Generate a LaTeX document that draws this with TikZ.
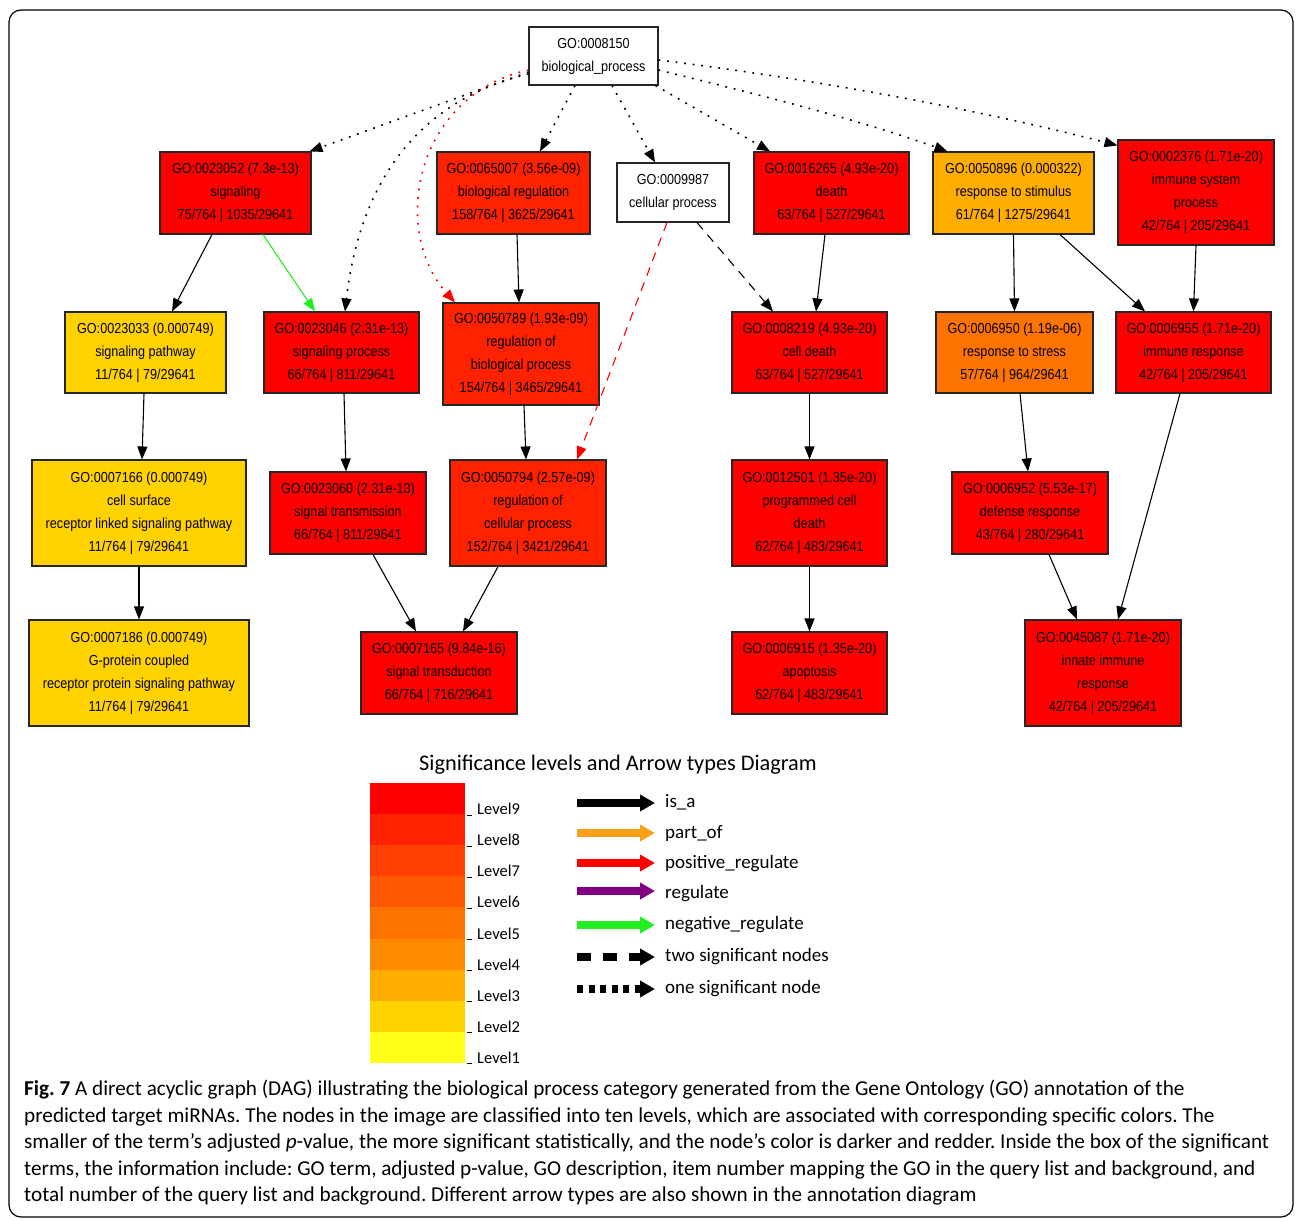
\documentclass[tikz,border=0pt]{standalone}
\usepackage{fontspec}
\setmainfont{Liberation Sans}
\newfontfamily\gofont[FakeStretch=0.87]{Liberation Sans}
\newfontfamily\legfont{Carlito}
\usetikzlibrary{arrows.meta}
\frenchspacing

\definecolor{lev9}{HTML}{FF0000}
\definecolor{lev8}{HTML}{FF2200}
\definecolor{lev7}{HTML}{FF4000}
\definecolor{lev6}{HTML}{FF5800}
\definecolor{lev5}{HTML}{FF7400}
\definecolor{lev4}{HTML}{FF8C00}
\definecolor{lev3}{HTML}{FFAE00}
\definecolor{lev2}{HTML}{FFD200}
\definecolor{lev1}{HTML}{FFFF1A}
\definecolor{partof}{HTML}{F9A11B}
\definecolor{regul}{HTML}{800080}
\definecolor{negreg}{HTML}{22EE22}

\tikzset{
  term/.style = {rectangle,draw=black!85,line width=1.1pt,inner sep=0pt,align=center,
                 font=\gofont\fontsize{14.5}{23}\selectfont},
  isa/.style = {-{Triangle[length=13pt,width=10pt]},line width=1.1pt},
  onesig/.style = {isa,line width=1.6pt,dash pattern=on 1.8pt off 6.8pt},
  twosig/.style = {isa,dash pattern=on 9pt off 7pt},
  legarrow/.style = {-{Triangle[length=15pt,width=16pt]},line width=7.5pt},
  leglab/.style = {anchor=west,inner sep=0pt,font=\legfont\fontsize{19}{22}\selectfont},
  levlab/.style = {anchor=west,inner sep=0pt,font=\legfont\fontsize{16.5}{18}\selectfont}
}

\begin{document}
\begin{tikzpicture}[x=1pt,y=-1pt]
\useasboundingbox (0,0) rectangle (1296,1220);
\draw[line width=1.2pt,rounded corners=12pt] (9,10) rectangle (1293,1217);

% GO terms
\node[term,fill=white,minimum width=129pt,minimum height=58pt] (bp) at (593.5,56) {GO:0008150\\biological\_process};
\node[term,fill=lev9,minimum width=151pt,minimum height=82pt] (sig) at (235.5,193) {GO:0023052 (7.3e-13)\\signaling\\75/764 | 1035/29641};
\node[term,fill=lev8,minimum width=153pt,minimum height=82pt] (bioreg) at (513.5,193) {GO:0065007 (3.56e-09)\\biological regulation\\158/764 | 3625/29641};
\node[term,fill=white,minimum width=112pt,minimum height=59pt] (cellp) at (673,192.5) {GO:0009987\\cellular process};
\node[term,fill=lev9,minimum width=155pt,minimum height=82pt] (death) at (831.5,193) {GO:0016265 (4.93e-20)\\death\\63/764 | 527/29641};
\node[term,fill=lev3,minimum width=161pt,minimum height=82pt] (stim) at (1013.5,193) {GO:0050896 (0.000322)\\response to stimulus\\61/764 | 1275/29641};
\node[term,fill=lev9,minimum width=156pt,minimum height=105pt] (immsys) at (1196,192.5) {GO:0002376 (1.71e-20)\\immune system\\process\\42/764 | 205/29641};

\node[term,fill=lev2,minimum width=161pt,minimum height=81pt] (sigpw) at (145.5,352.5) {GO:0023033 (0.000749)\\signaling pathway\\11/764 | 79/29641};
\node[term,fill=lev9,minimum width=155pt,minimum height=81pt] (sigproc) at (341.5,352.5) {GO:0023046 (2.31e-13)\\signaling process\\66/764 | 811/29641};
\node[term,fill=lev8,minimum width=156pt,minimum height=102pt] (regbp) at (521,354) {GO:0050789 (1.93e-09)\\regulation of\\biological process\\154/764 | 3465/29641};
\node[term,fill=lev9,minimum width=155pt,minimum height=81pt] (celldeath) at (809.5,352.5) {GO:0008219 (4.93e-20)\\cell death\\63/764 | 527/29641};
\node[term,fill=lev5,minimum width=157pt,minimum height=81pt] (stress) at (1014.5,352.5) {GO:0006950 (1.19e-06)\\response to stress\\57/764 | 964/29641};
\node[term,fill=lev9,minimum width=155pt,minimum height=81pt] (immresp) at (1193.5,352.5) {GO:0006955 (1.71e-20)\\immune response\\42/764 | 205/29641};

\node[term,fill=lev2,minimum width=214pt,minimum height=106pt] (cellsurf) at (139,513) {GO:0007166 (0.000749)\\cell surface\\receptor linked signaling pathway\\11/764 | 79/29641};
\node[term,fill=lev9,minimum width=156pt,minimum height=82pt] (sigtrans) at (348,513) {GO:0023060 (2.31e-13)\\signal transmission\\66/764 | 811/29641};
\node[term,fill=lev8,minimum width=156pt,minimum height=106pt] (regcp) at (528,513) {GO:0050794 (2.57e-09)\\regulation of\\cellular process\\152/764 | 3421/29641};
\node[term,fill=lev9,minimum width=155pt,minimum height=106pt] (pcd) at (809.5,513) {GO:0012501 (1.35e-20)\\programmed cell\\death\\62/764 | 483/29641};
\node[term,fill=lev9,minimum width=156pt,minimum height=82pt] (defense) at (1030,513) {GO:0006952 (5.53e-17)\\defense response\\43/764 | 280/29641};

\node[term,fill=lev2,minimum width=220pt,minimum height=106pt] (gprot) at (139,673) {GO:0007186 (0.000749)\\G-protein coupled\\receptor protein signaling pathway\\11/764 | 79/29641};
\node[term,fill=lev9,minimum width=156pt,minimum height=82pt] (sigtd) at (439,673) {GO:0007165 (9.84e-16)\\signal transduction\\66/764 | 716/29641};
\node[term,fill=lev9,minimum width=155pt,minimum height=82pt] (apop) at (809.5,673) {GO:0006915 (1.35e-20)\\apoptosis\\62/764 | 483/29641};
\node[term,fill=lev9,minimum width=156pt,minimum height=106pt] (innate) at (1103,673) {GO:0045087 (1.71e-20)\\innate immune\\response\\42/764 | 205/29641};

% edges from the root
\draw[onesig] ([yshift=-16pt]bp.west) -- ([xshift=74pt]sig.north);
\draw[onesig] ([yshift=-18pt]bp.west) .. controls (420,100) and (360,180) .. ([xshift=3.5pt]sigproc.north);
\draw[onesig,red] ([yshift=-14pt]bp.west) .. controls (415,95) and (390,230) .. ([xshift=-66pt]regbp.north);
\draw[onesig] ([xshift=-18.5pt]bp.south) -- ([xshift=26.5pt]bioreg.north);
\draw[onesig] ([xshift=18.5pt]bp.south) -- ([xshift=-18pt]cellp.north);
\draw[onesig] ([xshift=-3pt]bp.south east) -- ([xshift=-61.5pt]death.north);
\draw[onesig] ([yshift=-14pt]bp.east) .. controls (760,95) and (860,120) .. ([xshift=-66pt]stim.north);
\draw[onesig] ([yshift=-4pt]bp.east) .. controls (820,80) and (980,110) .. ([yshift=-6pt]immsys.north west);

% is_a and regulation edges
\draw[isa] ([xshift=-23.5pt]sig.south) -- ([xshift=26.5pt]sigpw.north);
\draw[isa,negreg] ([xshift=27.5pt]sig.south) -- ([xshift=-26.5pt]sigproc.north);
\draw[isa] ([xshift=3.5pt]bioreg.south) -- ([xshift=-2pt]regbp.north);
\draw[twosig] ([xshift=24pt]cellp.south) -- ([xshift=-36.5pt]celldeath.north);
\draw[twosig,red] ([xshift=-6pt]cellp.south) -- ([xshift=49pt]regcp.north);
\draw[isa] ([xshift=-6.5pt]death.south) -- ([xshift=6.5pt]celldeath.north);
\draw[isa] (stim.south) -- (stress.north);
\draw[isa] ([xshift=46.5pt]stim.south) -- ([xshift=-48.5pt]immresp.north);
\draw[isa] (immsys.south) -- (immresp.north);
\draw[isa] ([xshift=-1.5pt]sigpw.south) -- ([xshift=3pt]cellsurf.north);
\draw[isa] (cellsurf.south) -- (gprot.north);
\draw[isa] ([xshift=2.5pt]sigproc.south) -- ([xshift=-2pt]sigtrans.north);
\draw[isa] ([xshift=3pt]regbp.south) -- ([xshift=-2pt]regcp.north);
\draw[isa] ([xshift=25pt]sigtrans.south) -- ([xshift=-23pt]sigtd.north);
\draw[isa] ([xshift=-30pt]regcp.south) -- ([xshift=24pt]sigtd.north);
\draw[isa] (celldeath.south) -- (pcd.north);
\draw[isa] (pcd.south) -- (apop.north);
\draw[isa] ([xshift=5.5pt]stress.south) -- ([xshift=-2pt]defense.north);
\draw[isa] ([xshift=19pt]defense.south) -- ([xshift=-26pt]innate.north);
\draw[isa] ([xshift=-13.5pt]immresp.south) -- ([xshift=15pt]innate.north);

% legend
\node[font=\legfont\fontsize{22.3}{26}\selectfont] (legtitle) at (618,765) {Significance levels and Arrow types Diagram};
\foreach \c [count=\i from 0] in {lev9,lev8,lev7,lev6,lev5,lev4,lev3,lev2,lev1}
    \fill[\c] (370,{783+31.1*\i}) rectangle (465,{814.1+31.1*\i});
\foreach \l [count=\i from 0] in {9,8,7,6,5,4,3,2,1} {
    \draw[line width=0.8pt] (467,{815+31.1*\i}) -- (472,{815+31.1*\i});
    \node[levlab] (lev\l) at (477,{809+31.1*\i}) {Level\l};
}
\node[leglab] (lisa) at (665,802) {is\_a};
\node[leglab] (lpart) at (665,834) {part\_of};
\node[leglab] (lpos) at (665,864) {positive\_regulate};
\node[leglab] (lreg) at (665,894) {regulate};
\node[leglab] (lneg) at (665,925) {negative\_regulate};
\node[leglab] (ltwo) at (665,957) {two significant nodes};
\node[leglab] (lone) at (665,989) {one significant node};
\draw[legarrow] ([xshift=-88pt,yshift=-1pt]lisa.west) -- ([xshift=-10pt,yshift=-1pt]lisa.west);
\draw[legarrow,partof] ([xshift=-88pt,yshift=1pt]lpart.west) -- ([xshift=-10pt,yshift=1pt]lpart.west);
\draw[legarrow,red] ([xshift=-88pt,yshift=1pt]lpos.west) -- ([xshift=-10pt,yshift=1pt]lpos.west);
\draw[legarrow,regul] ([xshift=-88pt,yshift=3pt]lreg.west) -- ([xshift=-10pt,yshift=3pt]lreg.west);
\draw[legarrow,negreg] ([xshift=-88pt]lneg.west) -- ([xshift=-10pt]lneg.west);
\draw[legarrow,dash pattern=on 14pt off 12pt] ([xshift=-88pt]ltwo.west) -- ([xshift=-10pt]ltwo.west);
\draw[legarrow,dash pattern=on 6pt off 5.5pt] ([xshift=-88pt]lone.west) -- ([xshift=-10pt]lone.west);

% caption
\node[anchor=north west,inner sep=0pt,align=left,font=\legfont\fontsize{21.2}{26.5}\selectfont] (caption) at (24,1080)
  {\textbf{Fig. 7} A direct acyclic graph (DAG) illustrating the biological process category generated from the Gene Ontology (GO) annotation of the\\
   predicted target miRNAs. The nodes in the image are classified into ten levels, which are associated with corresponding specific colors. The\\
   smaller of the term’s adjusted \textit{p}-value, the more significant statistically, and the node’s color is darker and redder. Inside the box of the significant\\
   terms, the information include: GO term, adjusted p-value, GO description, item number mapping the GO in the query list and background, and\\
   total number of the query list and background. Different arrow types are also shown in the annotation diagram};
\end{tikzpicture}
\end{document}
